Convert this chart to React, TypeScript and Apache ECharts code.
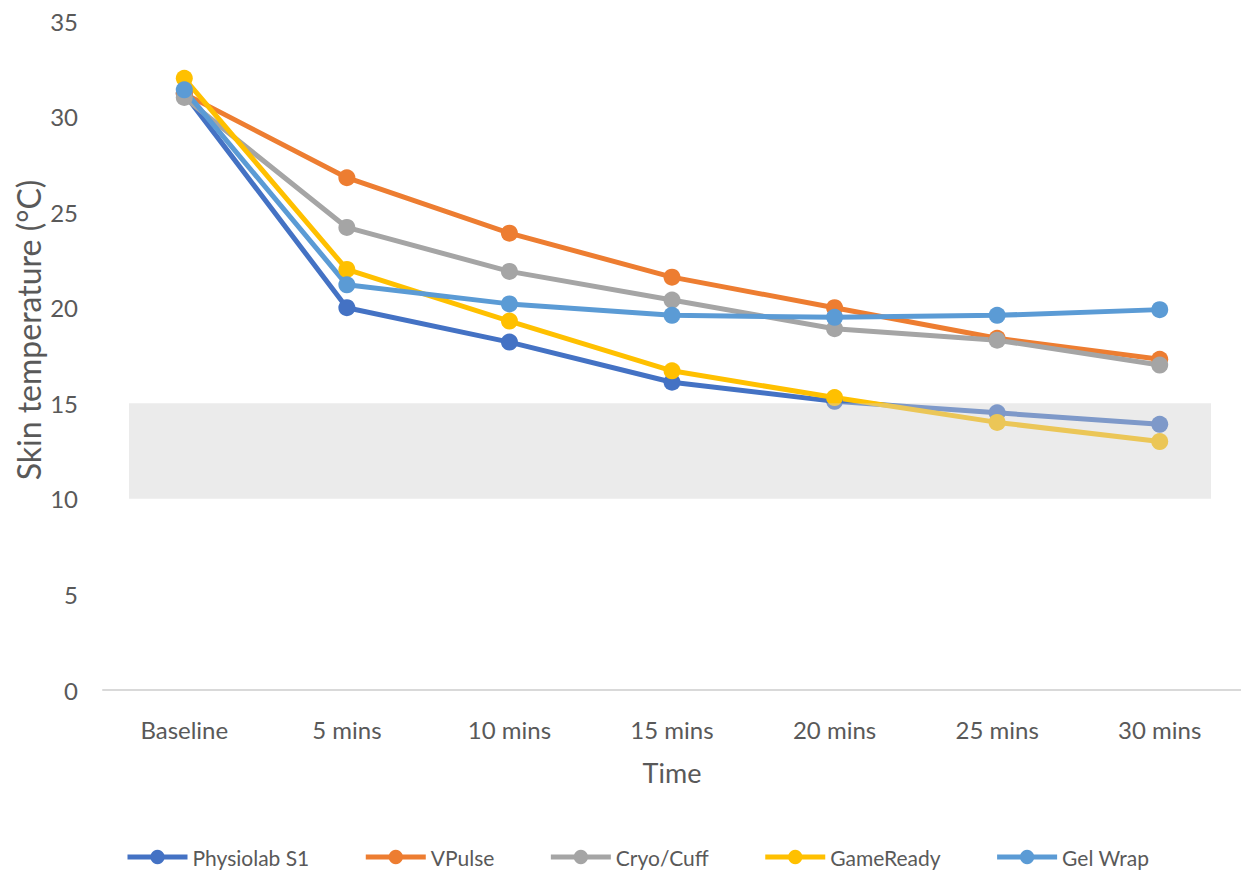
import React, { useEffect, useRef } from "react";
import * as echarts from "echarts";

const categories = ["Baseline", "5 mins", "10 mins", "15 mins", "20 mins", "25 mins", "30 mins"];
const physiolab = [31.2, 20.0, 18.2, 16.1, 15.1, 14.5, 13.9];
const vpulse = [31.2, 26.8, 23.9, 21.6, 20.0, 18.4, 17.3];
const cryoCuff = [31.0, 24.2, 21.9, 20.4, 18.9, 18.3, 17.0];
const gameReady = [32.0, 22.0, 19.3, 16.7, 15.3, 14.0, 13.0];
const gelWrap = [31.4, 21.2, 20.2, 19.6, 19.5, 19.6, 19.9];
const bandRange = [10, 15];
const yTitle = "Skin temperature (°C)";
const xTitle = "Time";

const seriesDefs = [
  { name: "Physiolab S1", data: physiolab, color: "#4472C4" },
  { name: "VPulse", data: vpulse, color: "#ED7D31" },
  { name: "Cryo/Cuff", data: cryoCuff, color: "#A5A5A5" },
  { name: "GameReady", data: gameReady, color: "#FFC000" },
  { name: "Gel Wrap", data: gelWrap, color: "#5B9BD5" },
];

const FONT = "Lato, 'Open Sans', sans-serif";
const TXT = "#595959";

export default function App() {
  const ref = useRef<HTMLDivElement>(null);
  useEffect(() => {
    if (!ref.current) return;
    const chart = echarts.init(ref.current, null, { renderer: "svg" });
    chart.setOption({
      animation: false,
      backgroundColor: "#ffffff",
      grid: { left: 103, right: -10, top: 21, bottom: 180, containLabel: false },
      legend: {
        top: 840,
        left: 120,
        padding: 5,
        itemWidth: 60,
        itemHeight: 18,
        itemGap: 54,
        lineStyle: { width: 5 },
        textStyle: { color: TXT, fontSize: 21, fontFamily: FONT, lineHeight: 24 },
        data: seriesDefs.map((s) => s.name),
      },
      xAxis: {
        type: "category",
        data: categories,
        boundaryGap: true,
        axisLine: { lineStyle: { color: "#D9D9D9", width: 2 } },
        axisTick: { show: false },
        axisLabel: { color: TXT, fontSize: 24, fontFamily: FONT, margin: 27 },
        name: xTitle,
        nameLocation: "middle",
        nameGap: 69,
        nameTextStyle: { color: TXT, fontSize: 27, fontFamily: FONT },
      },
      yAxis: {
        type: "value",
        min: 0,
        max: 35,
        interval: 5,
        splitLine: { show: false },
        axisLine: { show: false },
        axisTick: { show: false },
        axisLabel: { color: TXT, fontSize: 24, fontFamily: FONT, margin: 25 },
      },
      series: seriesDefs.map((s) => ({
        name: s.name,
        type: "line",
        data: s.data,
        symbol: "circle",
        symbolSize: 17,
        lineStyle: { color: s.color, width: 5 },
        itemStyle: { color: s.color },
        z: 2,
      })),
    });
    const yTop = chart.convertToPixel({ yAxisIndex: 0 }, bandRange[1]) as number;
    const yBot = chart.convertToPixel({ yAxisIndex: 0 }, bandRange[0]) as number;
    chart.setOption({
      graphic: [
        {
          type: "rect",
          z: 100,
          silent: true,
          shape: { x: 129, y: yTop, width: 1211 - 129, height: yBot - yTop },
          style: { fill: "rgba(208,208,208,0.42)" },
        },
        {
          type: "text",
          x: 28,
          y: 330,
          rotation: Math.PI / 2,
          silent: true,
          style: {
            text: yTitle,
            fill: TXT,
            fontSize: 32,
            fontFamily: FONT,
            align: "center",
            verticalAlign: "middle",
          },
        },
      ],
    });
    return () => chart.dispose();
  }, []);
  return (
    <div
      ref={ref}
      style={{ position: "fixed", left: 0, top: 0, width: 1241, height: 870 }}
    />
  );
}
